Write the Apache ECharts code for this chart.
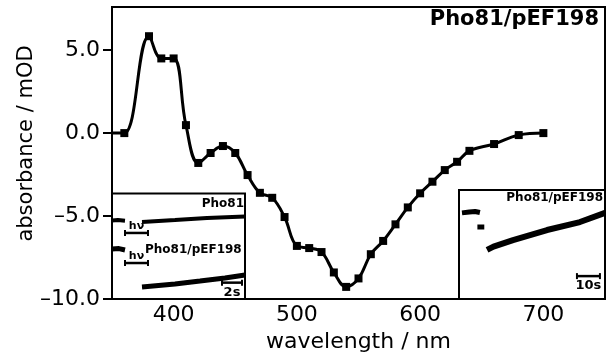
<!DOCTYPE html>
<html><head><meta charset="utf-8">
<script src="https://cdn.jsdelivr.net/npm/echarts@6/dist/echarts.min.js"></script>
<style>html,body{margin:0;padding:0;background:#fff}#c{width:612px;height:358px}</style>
</head><body><div id="c"></div>
<script>
// ---- main difference spectrum ----
const wavelengths = [350,360,380,390,400,410,420,430,440,450,460,470,480,490,500,510,520,530,540,550,560,570,580,590,600,610,620,630,640,660,680,700];
const absorbance  = [0,0,5.84,4.5,4.5,0.48,-1.8,-1.2,-0.78,-1.2,-2.53,-3.6,-3.9,-5.06,-6.8,-6.93,-7.17,-8.4,-9.27,-8.76,-7.3,-6.5,-5.5,-4.48,-3.63,-2.93,-2.23,-1.73,-1.07,-0.66,-0.12,0.0];
const xTickValues = [400,500,600,700];
const yTickValues = [-10,-5,0,5];
const yTickLabels = ['\u201310.0','\u20135.0','0.0','5.0'];

// ---- left inset: kinetic traces (time s, signal a.u.) ----
const ph81PreT  = [0, 0.6, 1.3];
const ph81PreV  = [74.4, 74.8, 74.2];
const ph81PostT = [3.0, 6.3, 9.5, 13.3];
const ph81PostV = [73.0, 74.9, 76.8, 78.2];
const pefPreT   = [0, 0.7, 1.3];
const pefPreV   = [47.4, 47.8, 46.5];
const pefPostT  = [3.0, 6.3, 8.8, 11.3, 13.3];
const pefPostV  = [11.4, 14.2, 17.0, 19.9, 22.7];
const hvStart = [1.3, 1.3];
const hvEnd   = [3.6, 3.6];
const hvLevel = [62.6, 34.1];
const scaleL  = [11.0, 13.0, 15.5, '2s'];

// ---- right inset ----
const rPreT  = [1.3, 4.5, 7.0, 9.1];
const rPreV  = [79.0, 79.8, 80.3, 79.3];
const rMidT  = [8.0, 11.0];
const rMidV  = [66.0, 66.0];
const rPostT = [12.2, 15.0, 23.5, 38.3, 52.6, 63.5];
const rPostV = [45.0, 48.0, 54.0, 63.3, 70.6, 79.0];
const scaleR = [51.3, 61.3, 21.0, '10s'];

const FONT = 'DejaVu Sans';
const zip = (a, b) => a.map((v, i) => [v, b[i]]);

function traceSeries(xi, t, v, w) {
  return { type: 'line', xAxisIndex: xi, yAxisIndex: xi, data: zip(t, v), symbol: 'none',
    lineStyle: { color: '#000', width: w }, silent: true, z: 5 };
}

function barItem(labelPos) {
  return function (params, api) {
    const p0 = api.coord([api.value(0), api.value(2)]);
    const p1 = api.coord([api.value(1), api.value(2)]);
    const txt = api.value(3);
    const children = [
      { type: 'line', shape: { x1: p0[0], y1: p0[1], x2: p1[0], y2: p1[1] }, style: { stroke: '#000', lineWidth: 2.5 } },
      { type: 'line', shape: { x1: p0[0], y1: p0[1] - 3, x2: p0[0], y2: p0[1] + 3 }, style: { stroke: '#000', lineWidth: 2 } },
      { type: 'line', shape: { x1: p1[0], y1: p1[1] - 3, x2: p1[0], y2: p1[1] + 3 }, style: { stroke: '#000', lineWidth: 2 } }
    ];
    if (labelPos === 'above') {
      children.push({ type: 'text', style: { text: txt, x: (p0[0] + p1[0]) / 2, y: p0[1] - 1, align: 'center', verticalAlign: 'bottom', font: 'bold 11px "' + FONT + '"', fill: '#000' } });
    } else {
      children.push({ type: 'text', style: { text: txt, x: (p0[0] + p1[0]) / 2, y: p0[1] + 3, align: 'center', verticalAlign: 'top', font: 'bold 13px "' + FONT + '"', fill: '#000' } });
    }
    return { type: 'group', children };
  };
}

const chart = echarts.init(document.getElementById('c'), null, { renderer: 'canvas' });
chart.setOption({
  animation: false,
  backgroundColor: '#fff',
  title: { text: 'Pho81/pEF198', right: 8, top: 4,
    textStyle: { fontFamily: FONT, fontWeight: 'bold', fontSize: 21, color: '#000' } },
  grid: [
    { left: 112, right: 7, top: 7, bottom: 59, show: true, borderColor: '#000', borderWidth: 2, containLabel: false },
    { left: 112, top: 193.5, width: 133, height: 105.5, show: true, borderColor: '#000', borderWidth: 2, backgroundColor: '#fff', z: 3 },
    { left: 459, top: 190, width: 146, height: 109, show: true, borderColor: '#000', borderWidth: 2, backgroundColor: '#fff', z: 3 }
  ],
  xAxis: [
    { type: 'value', gridIndex: 0, min: 350, max: 750,
      name: 'wavelength / nm', nameLocation: 'middle', nameGap: 30,
      nameTextStyle: { fontFamily: FONT, fontSize: 22, color: '#000' },
      axisLine: { show: true, onZero: false, lineStyle: { color: '#000', width: 2 } },
      axisTick: { show: false },
      axisLabel: { customValues: xTickValues, margin: 5, fontFamily: FONT, fontSize: 22, color: '#000' },
      splitLine: { show: false } },
    { type: 'value', gridIndex: 1, min: 0, max: 13.3, show: false },
    { type: 'value', gridIndex: 2, min: 0, max: 63.5, show: false }
  ],
  yAxis: [
    { type: 'value', gridIndex: 0, min: -10, max: 7.6, interval: 5,
      axisLine: { show: true, onZero: false, lineStyle: { color: '#000', width: 2 } },
      axisTick: { show: true, inside: false, length: 9, customValues: yTickValues, lineStyle: { color: '#000', width: 2 } },
      axisLabel: { customValues: yTickValues, margin: 12, fontFamily: FONT, fontSize: 22, color: '#000',
        formatter: v => yTickLabels[yTickValues.indexOf(v)] },
      splitLine: { show: false } },
    { type: 'value', gridIndex: 1, min: 0, max: 100, show: false },
    { type: 'value', gridIndex: 2, min: 0, max: 100, show: false }
  ],
  graphic: [
    { type: 'text', x: 27, y: 143.5, rotation: Math.PI / 2,
      style: { text: 'absorbance / mOD', font: '21px "' + FONT + '"', fill: '#000', align: 'center', verticalAlign: 'middle' } },
    { type: 'text', x: 244, y: 198, z: 10,
      style: { text: 'Pho81', font: 'bold 12px "' + FONT + '"', fill: '#000', align: 'right', verticalAlign: 'top' } },
    { type: 'text', x: 145, y: 244, z: 10,
      style: { text: 'Pho81/pEF198', font: 'bold 12px "' + FONT + '"', fill: '#000', align: 'left', verticalAlign: 'top' } },
    { type: 'text', x: 603, y: 192, z: 10,
      style: { text: 'Pho81/pEF198', font: 'bold 12px "' + FONT + '"', fill: '#000', align: 'right', verticalAlign: 'top' } }
  ],
  series: [
    { type: 'line', xAxisIndex: 0, yAxisIndex: 0, smooth: 0.4,
      data: wavelengths.map((w, i) => ({ value: [w, absorbance[i]], symbol: i === 0 ? 'none' : 'rect' })),
      symbolSize: 8, itemStyle: { color: '#000' }, lineStyle: { color: '#000', width: 3 }, z: 4 },
    traceSeries(1, ph81PreT, ph81PreV, 4),
    traceSeries(1, ph81PostT, ph81PostV, 4),
    traceSeries(1, pefPreT, pefPreV, 5),
    traceSeries(1, pefPostT, pefPostV, 5),
    { type: 'custom', xAxisIndex: 1, yAxisIndex: 1, renderItem: barItem('above'), z: 6,
      data: hvStart.map((s, i) => [s, hvEnd[i], hvLevel[i], 'h\u03bd']) },
    { type: 'custom', xAxisIndex: 1, yAxisIndex: 1, renderItem: barItem('below'), z: 6,
      data: [scaleL] },
    traceSeries(2, rPreT, rPreV, 5),
    traceSeries(2, rMidT, rMidV, 5),
    traceSeries(2, rPostT, rPostV, 6),
    { type: 'custom', xAxisIndex: 2, yAxisIndex: 2, renderItem: barItem('below'), z: 6,
      data: [scaleR] }
  ]
});
</script>
</body></html>
